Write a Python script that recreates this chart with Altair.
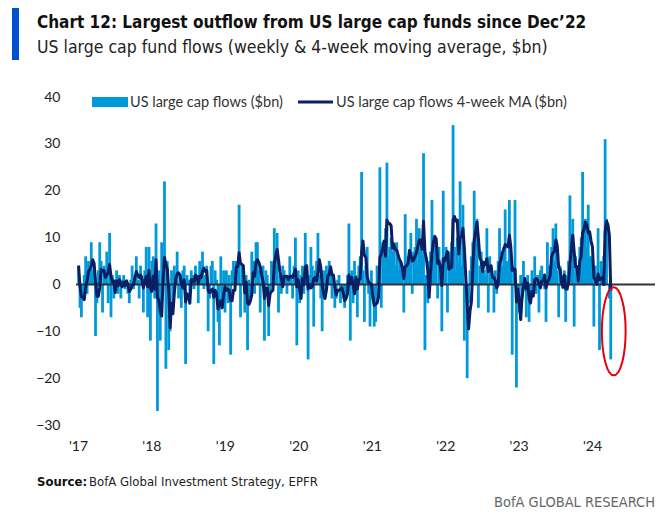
import altair as alt
import pandas as pd

# Weekly US large cap fund flows ($bn) (one value per week)
y2017 = [4, -5, -7, -3, 2, 6, -2, 5, 4, 9, 3, 2, -11, -4, 3, 9, 5, -6, 4, 3, 7, -4, 11, -7, 2, -3,
         1, 3, -2, 2, -3, 1, 2, -1, 1, -2, -4, 1, 4, -1, 2, 6, 1, -3, 4, 2, -6, 3, 8, -7, 8, -12]
y2018 = [5, 6, -3, 13, -27, 3, -12, 9, 4, 22, -18, 5, -14, -10, 3, -4, 4, 2, 7, -3, 2, -5, 3, 4, -17, 2,
         1, -2, 3, 2, -1, 4, 2, -4, 5, 3, 7, -1, 2, 4, -10, -3, 4, 5, -17, 3, 1, -8, -13, 6, -5, 3]
y2019 = [-6, 3, -4, 2, -15, 3, 5, 2, 5, 3, 17, -7, 4, 2, -6, 2, -14, 1, -3, 7, 5, -2, 9, 9, 3, -6,
         2, 4, -12, 3, 2, -11, -2, 5, 3, 12, 4, 11, -6, 2, -2, 4, 3, 2, -2, 1, 6, 2, -3, 4, 10, -13]
y2020 = [3, -4, 2, 4, -2, 11, 3, -16, 2, 8, 4, -9, 3, 5, 11, 2, -3, -10, 3, -2, 4, 2, 5, 4, -3, 2,
         -5, -3, 1, 2, -4, -2, -3, -5, -2, 2, 13, -12, 3, -4, 5, 2, -7, 4, 6, 24, 3, -8, 4, 8, -2, -9]
y2021 = [3, -3, -9, -8, 4, 2, 25, -5, 9, 8, 12, 26, 6, 8, 10, 7, 9, 4, 9, 3, 5, 2, 4, -6, 15, 3,
         6, 5, 11, -2, 7, 8, 14, 4, 12, 8, 6, 28, -14, 2, -4, 5, 7, 18, 6, 10, 5, -3, 8, 4, -10, 20]
y2022 = [6, 8, -6, 5, 7, 9, 34, 8, 3, 10, 5, 22, 4, 17, -12, -2, -20, -4, 3, 6, 9, 20, 10, 14, -5, 4,
         7, 5, 3, 2, 12, -6, 6, 4, 2, -6, 3, -2, 5, 12, 6, 4, 8, 16, 5, 3, 18, 6, -15, 4, 18, -22]
y2023 = [-4, -6, 2, -3, 5, 1, -7, 2, -8, -3, 3, -2, 6, -2, 2, -6, 3, 4, 2, -1, -8, 9, 4, 3, 8, 12,
         5, 13, 3, -7, 4, 2, -1, 3, -8, 2, 5, 19, 4, 14, -9, 6, 4, 2, 8, 10, 24, 5, 14, 8, 17, 6]
y2024 = [6, 3, -9, 4, 2, 12, -14, 5, 3, 6, 31, 14, 0, -3, -16]

flows = y2017 + y2018 + y2019 + y2020 + y2021 + y2022 + y2023 + y2024
dates = pd.date_range("2017-01-04", periods=len(flows), freq="7D")

year_ticks = [2017, 2018, 2019, 2020, 2021, 2022, 2023, 2024]
y_ticks = [-30, -20, -10, 0, 10, 20, 30, 40]

title = "Chart 12: Largest outflow from US large cap funds since Dec\u201922"
subtitle = "US large cap fund flows (weekly & 4-week moving average, $bn)"
legend_flows = "US large cap flows ($bn)"
legend_ma = "US large cap flows 4-week MA ($bn)"

df = pd.DataFrame({"date": dates, "flow": flows})

W, H = 579, 328
LIGHT = "#0099DA"
NAVY = "#0B1F62"
TFONT = "DejaVu Sans Condensed, Roboto, sans-serif"
LFONT = "Lato, Open Sans, sans-serif"

xscale = alt.Scale(domain=[alt.DateTime(year=2016, month=12, date=22),
                           alt.DateTime(year=2024, month=11, date=9)])
xaxis = alt.Axis(values=[alt.DateTime(year=y, month=1, date=1) for y in year_ticks],
                 labelExpr="\"'\" + timeFormat(datum.value, '%y')",
                 ticks=False, domain=False, grid=False, labelPadding=14,
                 labelFontSize=14, labelColor="#222", labelFont=LFONT, title=None)
yscale = alt.Scale(domain=[-30, 40], nice=False, zero=False)
yaxis = alt.Axis(values=y_ticks, ticks=False, domain=False, grid=False, labelPadding=16,
                 labelFontSize=14, labelColor="#222", labelFont=LFONT, title=None)

base = alt.Chart(df)

bars = base.mark_rule(strokeWidth=2.8, color=LIGHT).encode(
    x=alt.X("date:T", scale=xscale, axis=xaxis),
    y=alt.Y("flow:Q", scale=yscale, axis=yaxis),
    y2=alt.datum(0),
)

zero = alt.Chart(pd.DataFrame({"v": [0]})).mark_rule(color="#333333", strokeWidth=2).encode(
    y=alt.Y("v:Q", scale=yscale), x=alt.value(0), x2=alt.value(W)
)

ma = base.transform_window(
    ma="mean(flow)", frame=[-3, 0], sort=[alt.SortField("date")]
).mark_line(color=NAVY, strokeWidth=3, strokeJoin="round").encode(
    x="date:T", y="ma:Q"
)

ellipse_df = pd.DataFrame({"date": [dates[-1]], "v": [-10]})
ellipse = alt.Chart(ellipse_df).mark_point(
    shape="M-0.27,0A0.27,1 0 1,0 0.27,0A0.27,1 0 1,0 -0.27,0Z",
    size=7744, filled=False, stroke="#E3000F", strokeWidth=2, opacity=1, xOffset=3
).encode(x="date:T", y="v:Q")

one = pd.DataFrame({"a": [0]})

def txt(text, x, y, size, font, weight="normal", color="#111", align="left"):
    return alt.Chart(one).mark_text(
        align=align, baseline="alphabetic", fontSize=size, font=font,
        fontWeight=weight, color=color
    ).encode(x=alt.value(x), y=alt.value(y), text=alt.value(text))

leg_rect = alt.Chart(one).mark_rect(color=LIGHT).encode(
    x=alt.value(16), x2=alt.value(52), y=alt.value(0), y2=alt.value(10))
leg_line = alt.Chart(one).mark_rule(color=NAVY, strokeWidth=3).encode(
    x=alt.value(222), x2=alt.value(257), y=alt.value(5))
leg_t1 = txt(legend_flows, 54, 10, 14.5, LFONT, color="#333")
leg_t2 = txt(legend_ma, 260, 10, 14.5, LFONT, color="#333")

side_bar = alt.Chart(one).mark_rect(color="#0052CC").encode(
    x=alt.value(-64), x2=alt.value(-57), y=alt.value(-89), y2=alt.value(-37))
t_title = txt(title, -39, -69, 17, TFONT, weight="bold")
t_sub = txt(subtitle, -39, -44, 17.5, TFONT, color="#222")
t_src1 = txt("Source:", -39, 389, 13, TFONT, weight="bold")
t_src2 = txt("BofA Global Investment Strategy, EPFR", 13, 389, 13, TFONT, color="#222")
t_brand = txt("BofA GLOBAL RESEARCH", W, 410, 14.5, TFONT, color="#666", align="right")

chart = alt.layer(
    bars, zero, ma, ellipse, leg_rect, leg_line, leg_t1, leg_t2,
    side_bar, t_title, t_sub, t_src1, t_src2, t_brand
).properties(
    width=W, height=H,
    autosize=alt.AutoSizeParams(type="none"),
    padding={"left": 68, "top": 89, "right": 1, "bottom": 86},
    background="white",
).configure_view(strokeWidth=0)

chart.save("out.html", embed_options={"renderer": "svg", "actions": False})
